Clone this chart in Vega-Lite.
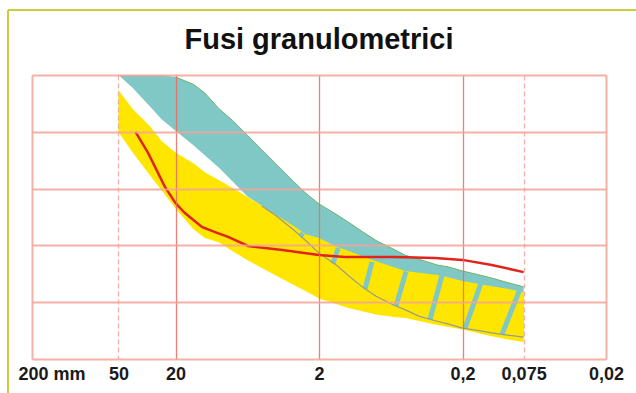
{
  "$schema": "https://vega.github.io/schema/vega-lite/v6.json",
  "width": 574,
  "height": 284,
  "autosize": {"type": "none"},
  "padding": {"left": 32, "top": 75, "right": 30, "bottom": 34},
  "background": "white",
  "config": {"view": {"stroke": null}},
  "title": {
    "text": "Fusi granulometrici",
    "font": "Liberation Sans",
    "fontSize": 29,
    "fontWeight": "bold",
    "color": "#111111",
    "anchor": "middle",
    "baseline": "alphabetic",
    "offset": -69
  },
  "datasets": {
    "teal": [
      {"d": 50, "hi": 100, "lo": 100},
      {"d": 40, "hi": 100, "lo": 95.6},
      {"d": 30, "hi": 100, "lo": 88.8},
      {"d": 25, "hi": 100, "lo": 84.4},
      {"d": 20, "hi": 99.3, "lo": 80.4},
      {"d": 15, "hi": 96.7, "lo": 75.3},
      {"d": 12.5, "hi": 93.7, "lo": 71.7},
      {"d": 10, "hi": 88.2, "lo": 67.4},
      {"d": 8, "hi": 84.0, "lo": 62.5},
      {"d": 6.3, "hi": 78.7, "lo": 57.2},
      {"d": 5, "hi": 73.6, "lo": 53.9},
      {"d": 4, "hi": 68.7, "lo": 50.5},
      {"d": 3, "hi": 62.4, "lo": 45.4},
      {"d": 2.5, "hi": 58.6, "lo": 41.9},
      {"d": 2, "hi": 54.6, "lo": 37.3},
      {"d": 1.5, "hi": 50.8, "lo": 32.9},
      {"d": 1.25, "hi": 48.2, "lo": 29.4},
      {"d": 1, "hi": 44.9, "lo": 25.4},
      {"d": 0.8, "hi": 41.7, "lo": 22.1},
      {"d": 0.6, "hi": 38.6, "lo": 18.9},
      {"d": 0.5, "hi": 36.5, "lo": 17.3},
      {"d": 0.4, "hi": 35.1, "lo": 15.0},
      {"d": 0.3, "hi": 33.1, "lo": 13.3},
      {"d": 0.25, "hi": 32.4, "lo": 12.3},
      {"d": 0.2, "hi": 31.0, "lo": 10.9},
      {"d": 0.15, "hi": 29.5, "lo": 9.9},
      {"d": 0.125, "hi": 28.5, "lo": 9.2},
      {"d": 0.1, "hi": 27.1, "lo": 8.5},
      {"d": 0.075, "hi": 25.4, "lo": 7.7}
    ],
    "yellow": [
      {"d": 50, "hi": 94.7, "lo": 79.9},
      {"d": 40, "hi": 88.2, "lo": 72.9},
      {"d": 30, "hi": 81.9, "lo": 64.5},
      {"d": 25, "hi": 76.8, "lo": 59.4},
      {"d": 20, "hi": 72.7, "lo": 53.0},
      {"d": 15, "hi": 68.9, "lo": 45.7},
      {"d": 12.5, "hi": 65.8, "lo": 42.6},
      {"d": 10, "hi": 63.0, "lo": 41.1},
      {"d": 8, "hi": 60.2, "lo": 37.9},
      {"d": 6.3, "hi": 57.0, "lo": 34.8},
      {"d": 5, "hi": 54.0, "lo": 32.0},
      {"d": 4, "hi": 50.8, "lo": 29.4},
      {"d": 3, "hi": 46.8, "lo": 26.1},
      {"d": 2.5, "hi": 44.0, "lo": 24.0},
      {"d": 2, "hi": 42.6, "lo": 21.3},
      {"d": 1.5, "hi": 39.4, "lo": 19.3},
      {"d": 1.25, "hi": 38.1, "lo": 18.0},
      {"d": 1, "hi": 36.2, "lo": 16.8},
      {"d": 0.8, "hi": 34.4, "lo": 15.7},
      {"d": 0.6, "hi": 32.3, "lo": 14.8},
      {"d": 0.5, "hi": 31.0, "lo": 14.4},
      {"d": 0.4, "hi": 30.4, "lo": 13.4},
      {"d": 0.3, "hi": 29.6, "lo": 12.0},
      {"d": 0.25, "hi": 28.7, "lo": 11.3},
      {"d": 0.2, "hi": 27.5, "lo": 10.4},
      {"d": 0.15, "hi": 26.3, "lo": 8.9},
      {"d": 0.125, "hi": 25.6, "lo": 8.0},
      {"d": 0.1, "hi": 24.8, "lo": 7.0},
      {"d": 0.075, "hi": 23.6, "lo": 6.0}
    ],
    "stripes": [
      {"d1": 2.58, "p1": 44.3, "d2": 2.7, "p2": 43.2},
      {"d1": 1.47, "p1": 39.1, "d2": 1.6, "p2": 33.6},
      {"d1": 0.854, "p1": 34.2, "d2": 0.956, "p2": 24.6},
      {"d1": 0.495, "p1": 30.8, "d2": 0.581, "p2": 18.7},
      {"d1": 0.278, "p1": 29.4, "d2": 0.337, "p2": 13.9},
      {"d1": 0.149, "p1": 26.6, "d2": 0.192, "p2": 10.8},
      {"d1": 0.08, "p1": 24.3, "d2": 0.106, "p2": 8.7}
    ],
    "campione": [
      {"d": 38, "p": 80},
      {"d": 31, "p": 72.5},
      {"d": 23.7, "p": 60.6},
      {"d": 20, "p": 54.9},
      {"d": 17.2, "p": 51.4},
      {"d": 13.1, "p": 46.5},
      {"d": 10.6, "p": 44.7},
      {"d": 8.6, "p": 43.0},
      {"d": 6.25, "p": 39.8},
      {"d": 3.6, "p": 38.4},
      {"d": 2, "p": 36.6},
      {"d": 1.32, "p": 35.9},
      {"d": 0.59, "p": 35.9},
      {"d": 0.31, "p": 35.6},
      {"d": 0.2, "p": 34.9},
      {"d": 0.125, "p": 33.1},
      {"d": 0.075, "p": 30.6}
    ]
  },
  "layer": [
    {
      "data": {"name": "teal"},
      "mark": {"type": "area", "color": "#80C8C6", "opacity": 1},
      "encoding": {
        "x": {
          "field": "d", "type": "quantitative",
          "scale": {"type": "log", "domain": [0.02, 200], "reverse": true, "nice": false},
          "axis": {
            "values": [200, 50, 20, 2, 0.2, 0.075, 0.02],
            "title": null,
            "domain": false,
            "ticks": false,
            "labelFont": "Liberation Sans",
            "labelFontSize": 18,
            "labelFontWeight": "bold",
            "labelColor": "#1a1a1a",
            "labelPadding": 6,
            "labelFlush": false,
            "labelOverlap": false,
            "labelExpr": "datum.value == 200 ? '200 mm' : replace(toString(datum.value), '.', ',')",
            "labelAlign": {"condition": {"test": "datum.value == 200", "value": "left"}, "value": "center"},
            "labelOffset": {"condition": {"test": "datum.value == 200", "value": -14}, "value": 0},
            "grid": true,
            "gridColor": {"condition": {"test": "datum.value == 20 || datum.value == 2 || datum.value == 0.2", "value": "#EA6A60"}, "value": "#F5A396"},
            "gridWidth": {"condition": {"test": "datum.value == 200 || datum.value == 0.02", "value": 2}, "value": 1.3},
            "gridDash": {"condition": {"test": "datum.value == 50 || datum.value == 0.075", "value": [5, 3]}, "value": []},
            "gridOpacity": 0.85,
            "zindex": 1
          }
        },
        "y": {
          "field": "hi", "type": "quantitative",
          "scale": {"domain": [0, 100], "nice": false},
          "axis": {
            "values": [0, 20, 40, 60, 80, 100],
            "title": null,
            "labels": false,
            "ticks": false,
            "domain": false,
            "grid": true,
            "gridColor": "#F5A396",
            "gridWidth": 2,
            "gridOpacity": 0.85,
            "zindex": 1
          }
        },
        "y2": {"field": "lo"}
      }
    },
    {
      "data": {"name": "yellow"},
      "mark": {"type": "area", "color": "#FFE600", "opacity": 1},
      "encoding": {
        "x": {"field": "d", "type": "quantitative", "scale": {"type": "log", "domain": [0.02, 200], "reverse": true, "nice": false}},
        "y": {"field": "hi", "type": "quantitative", "scale": {"domain": [0, 100], "nice": false}},
        "y2": {"field": "lo"}
      }
    },
    {
      "data": {"name": "stripes"},
      "mark": {"type": "rule", "color": "#80C8C6", "strokeWidth": 5},
      "encoding": {
        "x": {"field": "d1", "type": "quantitative", "scale": {"type": "log", "domain": [0.02, 200], "reverse": true, "nice": false}},
        "x2": {"field": "d2"},
        "y": {"field": "p1", "type": "quantitative", "scale": {"domain": [0, 100], "nice": false}},
        "y2": {"field": "p2"}
      }
    },
    {
      "data": {"name": "teal"},
      "transform": [{"filter": "datum.d <= 5"}],
      "mark": {"type": "line", "color": "#9A9A8E", "strokeWidth": 1.2},
      "encoding": {
        "x": {"field": "d", "type": "quantitative", "scale": {"type": "log", "domain": [0.02, 200], "reverse": true, "nice": false}},
        "y": {"field": "lo", "type": "quantitative", "scale": {"domain": [0, 100], "nice": false}}
      }
    },
    {
      "data": {"name": "teal"},
      "transform": [{"filter": "datum.d <= 20"}],
      "mark": {"type": "line", "color": "#6DB46A", "strokeWidth": 1},
      "encoding": {
        "x": {"field": "d", "type": "quantitative", "scale": {"type": "log", "domain": [0.02, 200], "reverse": true, "nice": false}},
        "y": {"field": "hi", "type": "quantitative", "scale": {"domain": [0, 100], "nice": false}}
      }
    },
    {
      "data": {"name": "campione"},
      "mark": {"type": "line", "color": "#E0241C", "strokeWidth": 2.5},
      "encoding": {
        "x": {"field": "d", "type": "quantitative", "scale": {"type": "log", "domain": [0.02, 200], "reverse": true, "nice": false}},
        "y": {"field": "p", "type": "quantitative", "scale": {"domain": [0, 100], "nice": false}}
      }
    },
    {
      "data": {"values": [{"d": 294, "p": 122.9, "p2": -20}]},
      "mark": {"type": "rule", "color": "#CDCD3C", "strokeWidth": 2, "clip": false},
      "encoding": {
        "x": {"field": "d", "type": "quantitative", "scale": {"type": "log", "domain": [0.02, 200], "reverse": true, "nice": false}},
        "y": {"field": "p", "type": "quantitative", "scale": {"domain": [0, 100], "nice": false}},
        "y2": {"field": "p2"}
      }
    },
    {
      "data": {"values": [{"d": 294, "d2": 0.01, "p": 122.9}]},
      "mark": {"type": "rule", "color": "#CDCD3C", "strokeWidth": 2, "clip": false},
      "encoding": {
        "x": {"field": "d", "type": "quantitative", "scale": {"type": "log", "domain": [0.02, 200], "reverse": true, "nice": false}},
        "x2": {"field": "d2"},
        "y": {"field": "p", "type": "quantitative", "scale": {"domain": [0, 100], "nice": false}}
      }
    }
  ]
}
